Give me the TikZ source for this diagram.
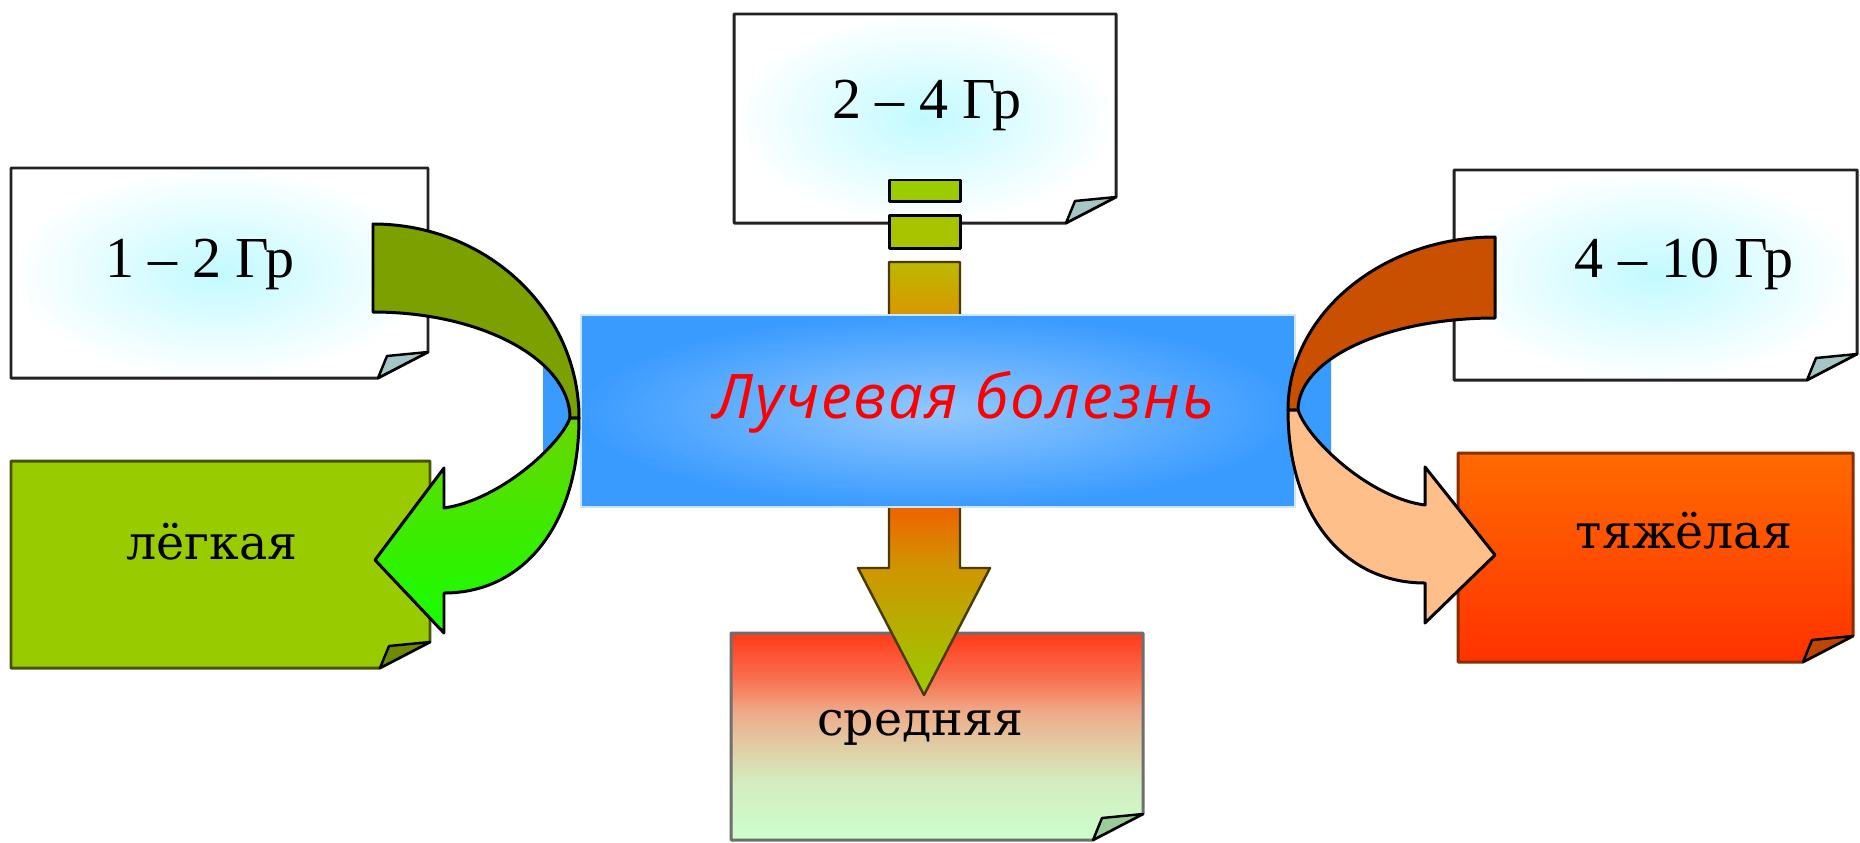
\documentclass[tikz,border=0pt]{standalone}
\usepackage{fontspec}
\setmainfont{Liberation Serif}
\newfontfamily\gradefont{DejaVu Serif}
\newfontfamily\titlefont{Open Sans}[LetterSpace=3]
\definecolor{glowc}{HTML}{C2FAFF}
\definecolor{boxedge}{HTML}{222222}
\definecolor{foldc}{HTML}{A6C6C6}
\definecolor{lightgreen}{HTML}{99CC00}
\definecolor{olivedge}{HTML}{465400}
\definecolor{olivefold}{HTML}{6E8A00}
\definecolor{orTop}{HTML}{FF6A00}
\definecolor{orBot}{HTML}{FF3200}
\definecolor{orEdge}{HTML}{8A2E00}
\definecolor{orFold}{HTML}{C04600}
\definecolor{cE1}{HTML}{CCFFCC}
\definecolor{cE2}{HTML}{D4ECC0}
\definecolor{cE3}{HTML}{E2C8A0}
\definecolor{cE4}{HTML}{EEAA88}
\definecolor{cE5}{HTML}{F87050}
\definecolor{cE6}{HTML}{FF3A1A}
\definecolor{eEdge}{HTML}{6E6E6E}
\definecolor{eFold}{HTML}{9ACC9A}
\definecolor{g1}{HTML}{99CC00}
\definecolor{g2}{HTML}{D09400}
\definecolor{g3}{HTML}{F06000}
\definecolor{g4}{HTML}{D89800}
\definecolor{g5}{HTML}{BCB800}
\definecolor{barA}{HTML}{9CCC00}
\definecolor{barB}{HTML}{A8C400}
\definecolor{shaftEdge}{HTML}{4A3A00}
\definecolor{blueIn}{HTML}{92C8FF}
\definecolor{blueOut}{HTML}{3A9BFF}
\definecolor{blueRim}{HTML}{CFE4FF}
\definecolor{oliveBand}{HTML}{7BA000}
\definecolor{greenTop}{HTML}{6AD600}
\definecolor{greenBot}{HTML}{14FF00}
\definecolor{rustBand}{HTML}{C85000}
\definecolor{peachBand}{HTML}{FFBF8A}
\pgfdeclareverticalshading{mediumsh}{100bp}{color(0bp)=(cE1); color(25bp)=(cE1); color(39bp)=(cE2); color(49bp)=(cE3); color(56bp)=(cE4); color(64bp)=(cE5); color(75bp)=(cE6); color(100bp)=(cE6)}
\pgfdeclareverticalshading{midarrow}{100bp}{color(0bp)=(g1); color(25bp)=(g1); color(40bp)=(g2); color(47bp)=(g3); color(69bp)=(g4); color(75bp)=(g5); color(100bp)=(g5)}
\newcommand{\notebox}[6]{%
  \path[#5] (#1,#2) -- (#3,#2) -- (#3,#4-26) -- (#3-50,#4) -- (#1,#4) -- cycle;
  \path[#6] (#3,#4-26) -- (#3-50,#4) -- (#3-41,#4-22) -- cycle;}
\begin{document}
\begin{tikzpicture}[x=0.01cm, y=-0.01cm, line join=round]
\tikzset{
  glowbox/.style={inner color=glowc, outer color=white, draw=boxedge, line width=0.85pt},
  foldtri/.style={fill=#1, draw=black, line width=0.7pt},
  arrowline/.style={draw=black, line width=0.85pt},
  doselabel/.style={anchor=base, font=\fontsize{16.5}{19}\selectfont},
  gradelabel/.style={anchor=base, font=\gradefont\fontsize{13.5}{16}\selectfont},
}
\useasboundingbox (0,0) rectangle (1860,842);
% note boxes
\notebox{11}{168}{428}{378}{glowbox}{foldtri=foldc}
\notebox{734}{14}{1116}{223}{glowbox}{foldtri=foldc}
\notebox{1454}{170}{1857}{380}{glowbox}{foldtri=foldc}
\notebox{11}{461}{430}{668}{fill=lightgreen, draw=olivedge, line width=0.85pt}{foldtri=olivefold}
\notebox{731}{633}{1143}{840}{shading=mediumsh, draw=eEdge, line width=0.85pt}{foldtri=eFold}
\notebox{1458}{453}{1853}{662}{top color=orTop, bottom color=orBot, draw=orEdge, line width=0.85pt}{foldtri=orFold}
% labels in boxes
\node[doselabel] (a) at (200,277) {1 – 2 Гр};
\node[doselabel] (b) at (927,118) {2 – 4 Гр};
\node[doselabel] (c) at (1684,277) {4 – 10 Гр};
\node[gradelabel] (d) at (212,559) {лёгкая};
\node[gradelabel] (f) at (1684,548) {тяжёлая};
% central striped arrow
\filldraw[fill=barA, draw=black, line width=0.85pt] (889,180) rectangle (960,201);
\filldraw[fill=barB, draw=black, line width=0.85pt] (889,215) rectangle (960,248);
\path[shading=midarrow, draw=shaftEdge, line width=0.7pt]
  (889,262) -- (960,262) -- (960,568) -- (990,568) -- (924,695) -- (858,568) -- (889,568) -- cycle;
\node[gradelabel] (e) at (920,735) {средняя};
% central blue rectangle
\path[inner color=blueIn, outer color=blueOut, draw=blueRim, line width=0.6pt] (581,315) rectangle (1295,507);
% blue visible inside the loops
\begin{scope}
  \clip (543,315) rectangle (582,507);
  \fill[blueOut] (373,312) .. controls (482,312) and (570,360) .. (570,418)
     .. controls (560,445) and (500,500) .. (444,508) -- cycle;
\end{scope}
\begin{scope}
  \clip (1294,315) rectangle (1331,507);
  \fill[blueOut] (1495,318) .. controls (1386,318) and (1298,359) .. (1298,410)
     .. controls (1308,440) and (1370,498) .. (1425,505) -- cycle;
\end{scope}
% green curved arrow (left)
\path[fill=oliveBand, arrowline]
  (373,224) .. controls (487,224) and (579,311) .. (579,418) -- (570,418)
  .. controls (570,360) and (482,312) .. (373,312) -- cycle;
\path[top color=greenTop, bottom color=greenBot, arrowline]
  (579,418) .. controls (579,523) and (525,593) .. (444,593) -- (444,633) -- (375,560)
  -- (444,468) -- (444,508) .. controls (500,500) and (560,445) .. (570,418) -- cycle;
% orange curved arrow (right)
\path[fill=rustBand, arrowline]
  (1495,237) .. controls (1381,237) and (1288,315) .. (1288,410) -- (1298,410)
  .. controls (1298,359) and (1386,318) .. (1495,318) -- cycle;
\path[fill=peachBand, arrowline]
  (1288,410) .. controls (1288,514) and (1343,583) .. (1425,583) -- (1425,623) -- (1495,555)
  -- (1425,467) -- (1425,505) .. controls (1370,498) and (1308,440) .. (1298,410) -- cycle;
% title
\node[anchor=base, text=red, font=\titlefont\itshape\fontsize{17.5}{20}\selectfont] (t) at (964,418) {Лучевая болезнь};
\end{tikzpicture}
\end{document}
